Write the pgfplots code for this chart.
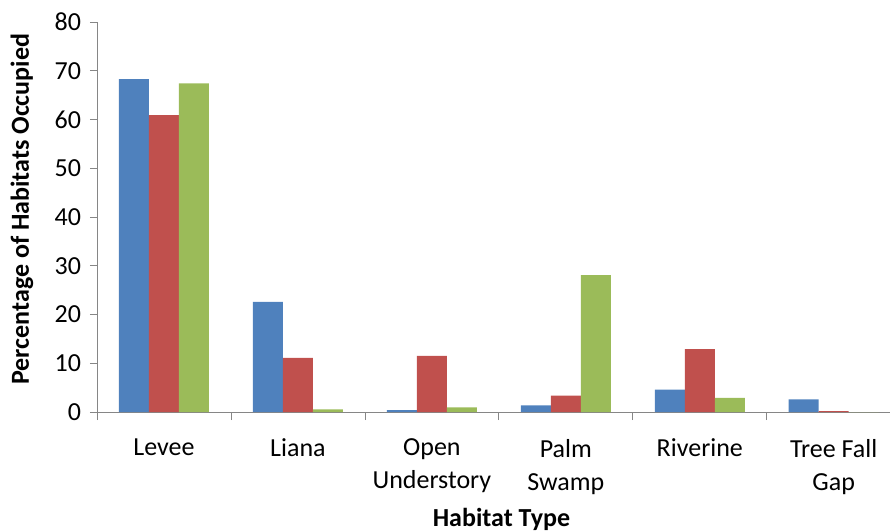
\documentclass[border=0pt]{standalone}
\usepackage{fontspec}
\setmainfont{Carlito}
\usepackage{pgfplots}
\pgfplotsset{compat=1.18}
\definecolor{cblue}{HTML}{4F81BD}
\definecolor{cred}{HTML}{C0504D}
\definecolor{cgreen}{HTML}{9BBB59}
\definecolor{caxis}{HTML}{868686}
\begin{document}
\fontsize{13pt}{16.5pt}\selectfont
\begin{tikzpicture}
\path[use as bounding box] (-48.5pt,-59.5pt) rectangle (396.5pt,206pt);
\begin{axis}[
  at={(0,0)}, anchor=south west,
  scale only axis, width=396.5pt, height=195pt,
  ymin=0, ymax=80, ytick={0,10,...,80},
  xmin=-0.5, xmax=5.42,
  xtick={0,...,5},
  xticklabels={Levee, Liana, {Open\\Understory}, {Palm\\Swamp}, Riverine, {Tree Fall\\Gap}},
  xticklabel style={align=center, font=\fontsize{13pt}{16.5pt}\selectfont, anchor=north, yshift=-5.5pt},
  yticklabel style={font=\fontsize{13pt}{16.5pt}\selectfont},
  major x tick style={draw=none},
  minor xtick={-0.5,0.5,...,5.5},
  minor tick length=4pt, major tick length=3.5pt,
  axis x line=bottom, axis y line=left,
  axis line style={caxis, -},
  every tick/.style={caxis},
  tick align=outside,
  ybar=0pt, bar width=15pt,
  /pgf/number format/assume math mode=true,
  every axis y label/.style={at={(rel axis cs:0,0.52)}, xshift=-37.5pt, rotate=90, anchor=center, font=\bfseries\fontsize{13pt}{16pt}\selectfont},
  every axis x label/.style={at={(rel axis cs:0.51,0)}, yshift=-53.5pt, anchor=center, font=\bfseries\fontsize{13pt}{16pt}\selectfont},
  ylabel={Percentage of Habitats Occupied},
  xlabel={Habitat Type},
]
\addplot[fill=cblue, draw=none] coordinates {(0,68.3) (1,22.6) (2,0.4) (3,1.35) (4,4.6) (5,2.6)};
\addplot[fill=cred, draw=none] coordinates {(0,60.9) (1,11.1) (2,11.5) (3,3.35) (4,12.9) (5,0.2)};
\addplot[fill=cgreen, draw=none] coordinates {(0,67.4) (1,0.55) (2,0.95) (3,28.1) (4,2.9) (5,0)};
\end{axis}
\end{tikzpicture}
\end{document}
